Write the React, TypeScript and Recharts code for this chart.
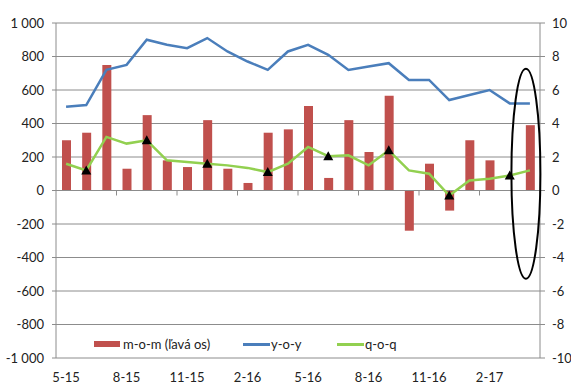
import React from "react";
import {
  ComposedChart,
  Bar,
  Line,
  XAxis,
  YAxis,
  CartesianGrid,
  ReferenceLine,
  ReferenceDot,
  Legend,
} from "recharts";

const months = [
  "5-15", "6-15", "7-15", "8-15", "9-15", "10-15", "11-15", "12-15",
  "1-16", "2-16", "3-16", "4-16", "5-16", "6-16", "7-16", "8-16",
  "9-16", "10-16", "11-16", "12-16", "1-17", "2-17", "3-17", "4-17",
];

// month-on-month change (left axis)
const mom = [
  300, 345, 750, 130, 450, 180, 140, 420, 130, 45, 345, 365,
  505, 75, 420, 230, 565, -240, 160, -120, 300, 180, null, 390,
];

// year-on-year growth, % (right axis)
const yoy = [
  5.0, 5.1, 7.2, 7.5, 9.0, 8.7, 8.5, 9.1, 8.3, 7.7, 7.2, 8.3,
  8.7, 8.1, 7.2, 7.4, 7.6, 6.6, 6.6, 5.4, 5.7, 6.0, 5.2, 5.2,
];

// quarter-on-quarter growth, % (right axis)
const qoq = [
  1.6, 1.2, 3.2, 2.8, 3.0, 1.8, 1.7, 1.6, 1.5, 1.35, 1.1, 1.6,
  2.6, 2.05, 2.1, 1.5, 2.4, 1.2, 1.0, -0.3, 0.6, 0.7, 0.9, 1.2,
];

// quarter-end points marked with triangles
const quarterMonths = ["6-15", "9-15", "12-15", "3-16", "6-16", "9-16", "12-16", "3-17"];
const quarterQoq = [1.2, 3.0, 1.6, 1.1, 2.05, 2.4, -0.3, 0.9];

const leftTicks = [-1000, -800, -600, -400, -200, 0, 200, 400, 600, 800, 1000];
const rightTicks = [-10, -8, -6, -4, -2, 0, 2, 4, 6, 8, 10];
const zeroAxisTicks = ["8-15", "11-15", "2-16", "5-16", "8-16", "11-16", "2-17"];
const legendOrder = ["m-o-m (ľavá os)", "y-o-y", "q-o-q"];

const W = 571;
const H = 385;
const LEFT_W = 56;
const RIGHT_W = 31;
const BAND = (W - LEFT_W - RIGHT_W) / months.length;

const FONT = '"Liberation Sans Narrow", "Arial Narrow", Lato, sans-serif';
const GRID = "#8c8c8c";
const RED = "#c0504d";
const BLUE = "#4a7ebb";
const GREEN = "#92d050";
const TEXT = "#222";

const data = months.map((m, i) => {
  const q = quarterMonths.indexOf(m);
  return {
    month: m,
    mom: mom[i],
    yoy: yoy[i],
    qoq: qoq[i],
    quarter: q >= 0 ? quarterQoq[q] : null,
  };
});

const fmtThousands = (v: number) => {
  const s = Math.abs(v).toString().replace(/\B(?=(\d{3})+(?!\d))/g, " ");
  return (v < 0 ? "-" : "") + s;
};

const Triangle = (props: any) => {
  const { cx, cy, index } = props;
  if (cy == null || isNaN(cy)) return <g key={`t-${index}`} />;
  return (
    <path
      key={`t-${index}`}
      d={`M${cx},${cy - 5} L${cx + 5},${cy + 4} L${cx - 5},${cy + 4} Z`}
      fill="#000"
    />
  );
};

const itemWidths = [149, 94, 70];

const renderLegend = (props: any) => {
  const items = (props.payload || [])
    .filter((p: any) => legendOrder.includes(p.value))
    .sort((a: any, b: any) => legendOrder.indexOf(a.value) - legendOrder.indexOf(b.value));
  return (
    <div style={{ display: "flex", alignItems: "center", fontFamily: FONT, fontSize: 13, color: TEXT, whiteSpace: "nowrap" }}>
      {items.map((p: any, i: number) => (
        <div key={p.value} style={{ display: "flex", alignItems: "center", width: itemWidths[i], flex: "none" }}>
          {p.type === "rect" ? (
            <span style={{ display: "inline-block", width: 26, height: 6, background: p.color, marginRight: 3 }} />
          ) : (
            <span style={{ display: "inline-block", width: 27, height: 3, background: p.color, marginRight: 1 }} />
          )}
          <span>{p.value}</span>
        </div>
      ))}
    </div>
  );
};

export default function App() {
  return (
    <div style={{ position: "absolute", left: 0, top: 0, background: "#fff" }}>
      <ComposedChart
        width={W}
        height={H}
        data={data}
        margin={{ top: 23, right: 0, bottom: 0, left: 0 }}
        barSize={9}
      >
        <CartesianGrid yAxisId="left" vertical={false} stroke={GRID} strokeWidth={1} />
        <XAxis
          dataKey="month"
          interval={2}
          height={27}
          axisLine={false}
          tickLine={false}
          tickSize={0}
          tickMargin={15}
          tick={{ fontFamily: FONT, fontSize: 13, fill: TEXT }}
        />
        <YAxis
          yAxisId="left"
          domain={[-1000, 1000]}
          ticks={leftTicks}
          width={LEFT_W}
          tickFormatter={fmtThousands}
          axisLine={{ stroke: GRID }}
          tickLine={{ stroke: GRID }}
          tickSize={4}
          tickMargin={8}
          tick={{ fontFamily: FONT, fontSize: 13, fill: TEXT }}
        />
        <YAxis
          yAxisId="right"
          orientation="right"
          domain={[-10, 10]}
          ticks={rightTicks}
          width={RIGHT_W}
          axisLine={{ stroke: GRID }}
          tickLine={{ stroke: GRID }}
          tickSize={5}
          tickMargin={7}
          tick={{ fontFamily: FONT, fontSize: 13, fill: TEXT, textAnchor: "start" }}
        />
        <ReferenceLine yAxisId="left" y={0} stroke={GRID} strokeWidth={1} />
        {zeroAxisTicks.map((m) => (
          <ReferenceDot
            key={m}
            yAxisId="left"
            x={m}
            y={0}
            shape={(p: any) => (
              <line x1={p.cx - BAND / 2} x2={p.cx - BAND / 2} y1={p.cy} y2={p.cy + 5} stroke={GRID} />
            )}
          />
        ))}
        <Bar yAxisId="left" dataKey="mom" name="m-o-m (ľavá os)" fill={RED} isAnimationActive={false} />
        <Line
          yAxisId="right"
          dataKey="yoy"
          name="y-o-y"
          type="linear"
          stroke={BLUE}
          strokeWidth={2.5}
          dot={false}
          isAnimationActive={false}
        />
        <Line
          yAxisId="right"
          dataKey="qoq"
          name="q-o-q"
          type="linear"
          stroke={GREEN}
          strokeWidth={2.5}
          dot={false}
          isAnimationActive={false}
        />
        <Line
          yAxisId="right"
          dataKey="quarter"
          stroke="none"
          legendType="none"
          dot={Triangle}
          activeDot={false}
          isAnimationActive={false}
        />
        <ReferenceDot
          yAxisId="right"
          x="4-17"
          y={1}
          shape={(p: any) => (
            <ellipse cx={p.cx - 4} cy={p.cy} rx={14.5} ry={105} fill="none" stroke="#000" strokeWidth={2} />
          )}
        />
        <Legend
          layout="horizontal"
          verticalAlign="middle"
          content={renderLegend}
          wrapperStyle={{ left: 94, top: 336, width: 330, height: 16 }}
        />
      </ComposedChart>
    </div>
  );
}
